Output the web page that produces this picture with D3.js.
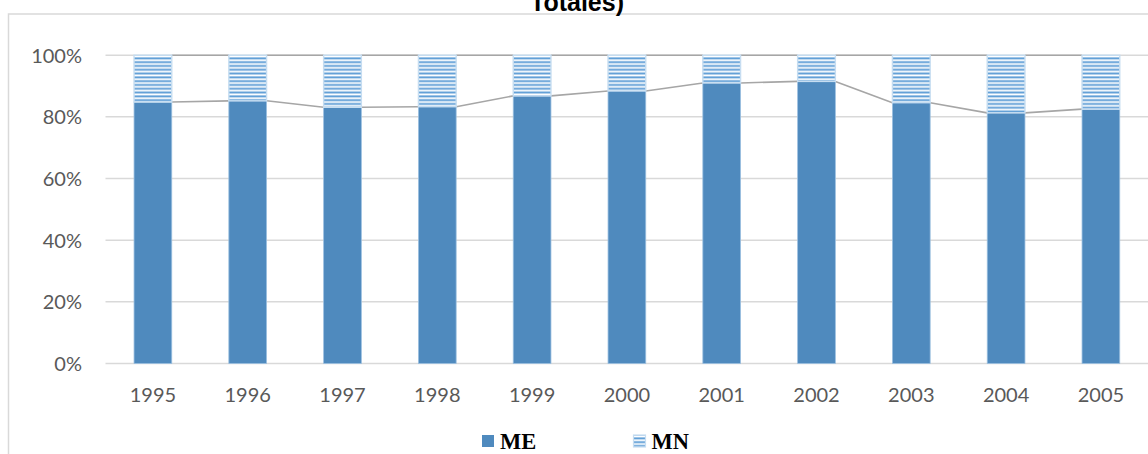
<!DOCTYPE html>
<html>
<head>
<meta charset="utf-8">
<script src="https://cdn.jsdelivr.net/npm/d3@7"></script>
<style>
  html, body { margin: 0; padding: 0; background: #fff; }
  svg { display: block; }
</style>
</head>
<body>
<svg id="chart" width="1148" height="454"></svg>
<script>
// Participation shares by year (percent)
const years = ["1995", "1996", "1997", "1998", "1999", "2000", "2001", "2002", "2003", "2004", "2005"];
const meShare = [84.8, 85.2, 83.1, 83.3, 86.8, 88.4, 91.0, 91.5, 84.6, 81.3, 82.5];
const mnShare = [15.2, 14.8, 16.9, 16.7, 13.2, 11.6, 9.0, 8.5, 15.4, 18.7, 17.5];
const yTicks = [0, 20, 40, 60, 80, 100];
const seriesNames = ["ME", "MN"];

const svg = d3.select("#chart");
const W = 1148, H = 454;
const plot = { left: 105.5, right: 1148.3, top: 55.2, bottom: 363.5 };

const meColor = "#4f8abe";
const mnStripe = "#5b9bd5";
const gridColor = "#d9d9d9";
const seriesLineColor = "#a6a6a6";
const labelColor = "#595959";

// Striped fill for the MN segments
const defs = svg.append("defs");
const pat = defs.append("pattern")
  .attr("id", "mnStripes")
  .attr("patternUnits", "userSpaceOnUse")
  .attr("width", 8).attr("height", 3.8);
pat.append("rect").attr("width", 8).attr("height", 3.8).attr("fill", "#ffffff");
pat.append("rect").attr("y", 0.4).attr("width", 8).attr("height", 1.9).attr("fill", mnStripe);

// Chart frame
svg.append("rect")
  .attr("x", 8.5).attr("y", 14)
  .attr("width", W + 20).attr("height", H + 20)
  .attr("fill", "none").attr("stroke", gridColor).attr("stroke-width", 1.5);

// Title (second line of a wrapped title)
svg.append("text")
  .attr("x", 577).attr("y", 11)
  .attr("text-anchor", "middle")
  .attr("font-family", "Liberation Sans, Arial, sans-serif")
  .attr("font-weight", "bold")
  .attr("font-size", 25)
  .attr("fill", "#000")
  .text("Totales)");

const x = d3.scaleBand()
  .domain(years)
  .range([plot.left, plot.right])
  .paddingInner(0.602)
  .paddingOuter(0.301);

const y = d3.scaleLinear()
  .domain([0, 100])
  .range([plot.bottom, plot.top]);

// Horizontal gridlines
svg.append("g")
  .selectAll("line")
  .data(yTicks)
  .join("line")
  .attr("x1", plot.left).attr("x2", plot.right)
  .attr("y1", d => y(d)).attr("y2", d => y(d))
  .attr("stroke", gridColor).attr("stroke-width", 1.5);

// Y axis labels
const yAxis = d3.axisLeft(y).tickValues(yTicks).tickFormat(d => d + "%").tickSize(0).tickPadding(0);
const yG = svg.append("g")
  .attr("transform", `translate(${82},0)`)
  .call(yAxis);
yG.select(".domain").remove();
yG.selectAll("text")
  .attr("font-family", "Lato, 'Open Sans', sans-serif")
  .attr("font-size", 20)
  .attr("fill", labelColor)
  .attr("dy", "0.35em");

// X axis labels
const xAxis = d3.axisBottom(x).tickSize(0).tickPadding(0);
const xG = svg.append("g")
  .attr("transform", `translate(0,${plot.bottom})`)
  .call(xAxis);
xG.select(".domain").remove();
xG.selectAll("text")
  .attr("font-family", "Lato, 'Open Sans', sans-serif")
  .attr("font-size", 20)
  .attr("fill", labelColor)
  .attr("y", 38)
  .attr("dy", 0);

// Stacked data
const rows = years.map((yr, i) => ({ year: yr, ME: meShare[i], MN: mnShare[i] }));
const stack = d3.stack().keys(seriesNames)(rows);

// Series lines joining the top of each stacked segment between neighbouring columns
const bw = x.bandwidth();
const lineG = svg.append("g");
stack.forEach(layer => {
  for (let i = 0; i < layer.length - 1; i++) {
    lineG.append("line")
      .attr("x1", x(years[i]) + bw)
      .attr("y1", y(layer[i][1]))
      .attr("x2", x(years[i + 1]))
      .attr("y2", y(layer[i + 1][1]))
      .attr("stroke", seriesLineColor)
      .attr("stroke-width", 1.6);
  }
});

// Columns
const fills = { ME: meColor, MN: "url(#mnStripes)" };
const strokes = { ME: "#9cc0e0", MN: "#c6ddf1" };
stack.forEach(layer => {
  svg.append("g")
    .selectAll("rect")
    .data(layer)
    .join("rect")
    .attr("x", (d, i) => x(years[i]))
    .attr("y", d => y(d[1]))
    .attr("width", bw)
    .attr("height", d => y(d[0]) - y(d[1]))
    .attr("fill", fills[layer.key])
    .attr("stroke", strokes[layer.key])
    .attr("stroke-width", layer.key === "MN" ? 1.4 : 0.8);
});

// Legend
const legend = svg.append("g");
const legendItems = [
  { key: "ME", x: 482 },
  { key: "MN", x: 633.5 }
];
legendItems.forEach(item => {
  legend.append("rect")
    .attr("x", item.x).attr("y", 435)
    .attr("width", 12).attr("height", 12)
    .attr("fill", fills[item.key])
    .attr("stroke", item.key === "MN" ? strokes.MN : "none")
    .attr("stroke-width", 1.2);
  legend.append("text")
    .attr("x", item.x + (item.key === "MN" ? 18 : 18))
    .attr("y", 449)
    .attr("font-family", "Liberation Serif, 'Times New Roman', serif")
    .attr("font-weight", "bold")
    .attr("font-size", 22.5)
    .attr("fill", "#000")
    .text(item.key);
});
</script>
</body>
</html>
